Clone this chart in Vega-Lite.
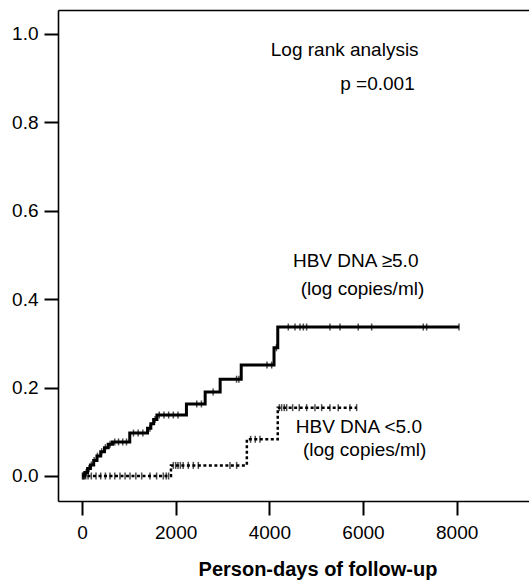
{
  "$schema": "https://vega.github.io/schema/vega-lite/v6.json",
  "width": 471,
  "height": 491,
  "autosize": "none",
  "padding": {"left": 58, "top": 10, "right": 0, "bottom": 80},
  "background": "white",
  "config": {
    "view": {"stroke": null},
    "font": "Liberation Sans",
    "axis": {
      "domainColor": "#000",
      "domainWidth": 1.6,
      "tickColor": "#000",
      "tickWidth": 2,
      "tickSize": 14,
      "labelFont": "Liberation Sans",
      "labelFontSize": 19,
      "labelColor": "#000",
      "grid": false
    }
  },
  "datasets": {
    "curve": [
      {"group": "high", "days": 0, "risk": 0},
      {"group": "high", "days": 60, "risk": 0.008},
      {"group": "high", "days": 120, "risk": 0.017},
      {"group": "high", "days": 180, "risk": 0.025},
      {"group": "high", "days": 250, "risk": 0.035},
      {"group": "high", "days": 320, "risk": 0.045},
      {"group": "high", "days": 400, "risk": 0.055},
      {"group": "high", "days": 480, "risk": 0.064},
      {"group": "high", "days": 560, "risk": 0.072},
      {"group": "high", "days": 650, "risk": 0.077},
      {"group": "high", "days": 1020, "risk": 0.097},
      {"group": "high", "days": 1400, "risk": 0.108},
      {"group": "high", "days": 1470, "risk": 0.118},
      {"group": "high", "days": 1530, "risk": 0.128},
      {"group": "high", "days": 1600, "risk": 0.138},
      {"group": "high", "days": 2230, "risk": 0.163},
      {"group": "high", "days": 2630, "risk": 0.19},
      {"group": "high", "days": 2950, "risk": 0.219},
      {"group": "high", "days": 3400, "risk": 0.251},
      {"group": "high", "days": 4100, "risk": 0.29},
      {"group": "high", "days": 4180, "risk": 0.337},
      {"group": "high", "days": 8050, "risk": 0.337},
      {"group": "low", "days": 0, "risk": 0},
      {"group": "low", "days": 1900, "risk": 0.024},
      {"group": "low", "days": 3520, "risk": 0.083},
      {"group": "low", "days": 4180, "risk": 0.1546},
      {"group": "low", "days": 5865, "risk": 0.1546}
    ],
    "censor": [
      {"group": "high", "days": 20, "risk": 0},
      {"group": "high", "days": 50, "risk": 0},
      {"group": "high", "days": 90, "risk": 0.008},
      {"group": "high", "days": 150, "risk": 0.017},
      {"group": "high", "days": 200, "risk": 0.025},
      {"group": "high", "days": 260, "risk": 0.035},
      {"group": "high", "days": 330, "risk": 0.045},
      {"group": "high", "days": 420, "risk": 0.055},
      {"group": "high", "days": 500, "risk": 0.064},
      {"group": "high", "days": 600, "risk": 0.072},
      {"group": "high", "days": 700, "risk": 0.077},
      {"group": "high", "days": 780, "risk": 0.077},
      {"group": "high", "days": 870, "risk": 0.077},
      {"group": "high", "days": 950, "risk": 0.077},
      {"group": "high", "days": 1100, "risk": 0.097},
      {"group": "high", "days": 1200, "risk": 0.097},
      {"group": "high", "days": 1300, "risk": 0.097},
      {"group": "high", "days": 1450, "risk": 0.108},
      {"group": "high", "days": 1560, "risk": 0.128},
      {"group": "high", "days": 1650, "risk": 0.138},
      {"group": "high", "days": 1750, "risk": 0.138},
      {"group": "high", "days": 1850, "risk": 0.138},
      {"group": "high", "days": 1950, "risk": 0.138},
      {"group": "high", "days": 2050, "risk": 0.138},
      {"group": "high", "days": 2450, "risk": 0.163},
      {"group": "high", "days": 2550, "risk": 0.163},
      {"group": "high", "days": 2800, "risk": 0.19},
      {"group": "high", "days": 3300, "risk": 0.219},
      {"group": "high", "days": 3350, "risk": 0.219},
      {"group": "high", "days": 3950, "risk": 0.251},
      {"group": "high", "days": 4050, "risk": 0.251},
      {"group": "high", "days": 4150, "risk": 0.29},
      {"group": "high", "days": 4405, "risk": 0.337},
      {"group": "high", "days": 4548, "risk": 0.337},
      {"group": "high", "days": 4655, "risk": 0.337},
      {"group": "high", "days": 4726, "risk": 0.337},
      {"group": "high", "days": 4796, "risk": 0.337},
      {"group": "high", "days": 5294, "risk": 0.337},
      {"group": "high", "days": 5508, "risk": 0.337},
      {"group": "high", "days": 5899, "risk": 0.337},
      {"group": "high", "days": 6185, "risk": 0.337},
      {"group": "high", "days": 7287, "risk": 0.337},
      {"group": "high", "days": 7359, "risk": 0.337},
      {"group": "high", "days": 8050, "risk": 0.337},
      {"group": "low", "days": 10, "risk": 0},
      {"group": "low", "days": 40, "risk": 0},
      {"group": "low", "days": 80, "risk": 0},
      {"group": "low", "days": 130, "risk": 0},
      {"group": "low", "days": 200, "risk": 0},
      {"group": "low", "days": 300, "risk": 0},
      {"group": "low", "days": 400, "risk": 0},
      {"group": "low", "days": 500, "risk": 0},
      {"group": "low", "days": 598, "risk": 0},
      {"group": "low", "days": 700, "risk": 0},
      {"group": "low", "days": 811, "risk": 0},
      {"group": "low", "days": 920, "risk": 0},
      {"group": "low", "days": 1025, "risk": 0},
      {"group": "low", "days": 1150, "risk": 0},
      {"group": "low", "days": 1274, "risk": 0},
      {"group": "low", "days": 1452, "risk": 0},
      {"group": "low", "days": 1594, "risk": 0},
      {"group": "low", "days": 1736, "risk": 0},
      {"group": "low", "days": 1800, "risk": 0},
      {"group": "low", "days": 1850, "risk": 0},
      {"group": "low", "days": 1950, "risk": 0.024},
      {"group": "low", "days": 2000, "risk": 0.024},
      {"group": "low", "days": 2050, "risk": 0.024},
      {"group": "low", "days": 2100, "risk": 0.024},
      {"group": "low", "days": 2160, "risk": 0.024},
      {"group": "low", "days": 2270, "risk": 0.024},
      {"group": "low", "days": 2377, "risk": 0.024},
      {"group": "low", "days": 2484, "risk": 0.024},
      {"group": "low", "days": 3160, "risk": 0.024},
      {"group": "low", "days": 3302, "risk": 0.024},
      {"group": "low", "days": 3600, "risk": 0.083},
      {"group": "low", "days": 3700, "risk": 0.083},
      {"group": "low", "days": 3800, "risk": 0.083},
      {"group": "low", "days": 4213, "risk": 0.1546},
      {"group": "low", "days": 4263, "risk": 0.1546},
      {"group": "low", "days": 4319, "risk": 0.1546},
      {"group": "low", "days": 4370, "risk": 0.1546},
      {"group": "low", "days": 4498, "risk": 0.1546},
      {"group": "low", "days": 4639, "risk": 0.1546},
      {"group": "low", "days": 4796, "risk": 0.1546},
      {"group": "low", "days": 4974, "risk": 0.1546},
      {"group": "low", "days": 5117, "risk": 0.1546},
      {"group": "low", "days": 5294, "risk": 0.1546},
      {"group": "low", "days": 5471, "risk": 0.1546},
      {"group": "low", "days": 5721, "risk": 0.1546},
      {"group": "low", "days": 5864, "risk": 0.1546}
    ],
    "labels": [
      {"label": "Log rank analysis", "days": 5609, "risk": 0.950},
      {"label": "p =0.001", "days": 6309, "risk": 0.873},
      {"label": "HBV DNA ≥5.0", "days": 5844, "risk": 0.4735},
      {"label": "(log copies/ml)", "days": 5989, "risk": 0.4095},
      {"label": "HBV DNA <5.0", "days": 5911, "risk": 0.0966},
      {"label": "(log copies/ml)", "days": 6035, "risk": 0.045}
    ]
  },
  "layer": [
    {
      "data": {"name": "curve"},
      "transform": [{"filter": "datum.group === 'high'"}],
      "mark": {"type": "line", "interpolate": "step-after", "color": "#000", "strokeWidth": 3},
      "encoding": {
        "x": {
          "field": "days", "type": "quantitative",
          "scale": {"domain": [-512, 9544], "nice": false, "zero": false},
          "axis": {
            "orient": "bottom",
            "values": [0, 2000, 4000, 6000, 8000],
            "format": "d",
            "labelPadding": 8,
            "title": "Person-days of follow-up",
            "titleFont": "Liberation Sans",
            "titleFontSize": 20,
            "titleFontWeight": "bold",
            "titleColor": "#000",
            "titleX": 259.5,
            "titleY": 74,
            "titleBaseline": "alphabetic",
            "titleAlign": "center"
          }
        },
        "y": {
          "field": "risk", "type": "quantitative",
          "scale": {"domain": [-0.0566, 1.0543], "nice": false, "zero": false},
          "axis": {"values": [0, 0.2, 0.4, 0.6, 0.8, 1.0], "format": ".1f", "title": null, "labelPadding": 6}
        }
      }
    },
    {
      "data": {"name": "curve"},
      "transform": [{"filter": "datum.group === 'low'"}],
      "mark": {"type": "line", "interpolate": "step-after", "color": "#000", "strokeWidth": 2.5, "strokeDash": [3, 2.5]},
      "encoding": {
        "x": {"field": "days", "type": "quantitative", "axis": null},
        "y": {"field": "risk", "type": "quantitative"}
      }
    },
    {
      "data": {"name": "censor"},
      "mark": {"type": "tick", "orient": "vertical", "size": 7, "thickness": 1.5, "color": "#000"},
      "encoding": {
        "x": {"field": "days", "type": "quantitative", "axis": null},
        "y": {"field": "risk", "type": "quantitative"}
      }
    },
    {
      "data": {"name": "labels"},
      "mark": {"type": "text", "font": "Liberation Sans", "fontSize": 19, "align": "center", "baseline": "alphabetic", "color": "#000"},
      "encoding": {
        "x": {
          "field": "days", "type": "quantitative",
          "axis": {"orient": "top", "labels": false, "ticks": false, "title": null, "domain": true}
        },
        "y": {"field": "risk", "type": "quantitative"},
        "text": {"field": "label", "type": "nominal"}
      }
    }
  ],
  "resolve": {"axis": {"x": "independent"}}
}
